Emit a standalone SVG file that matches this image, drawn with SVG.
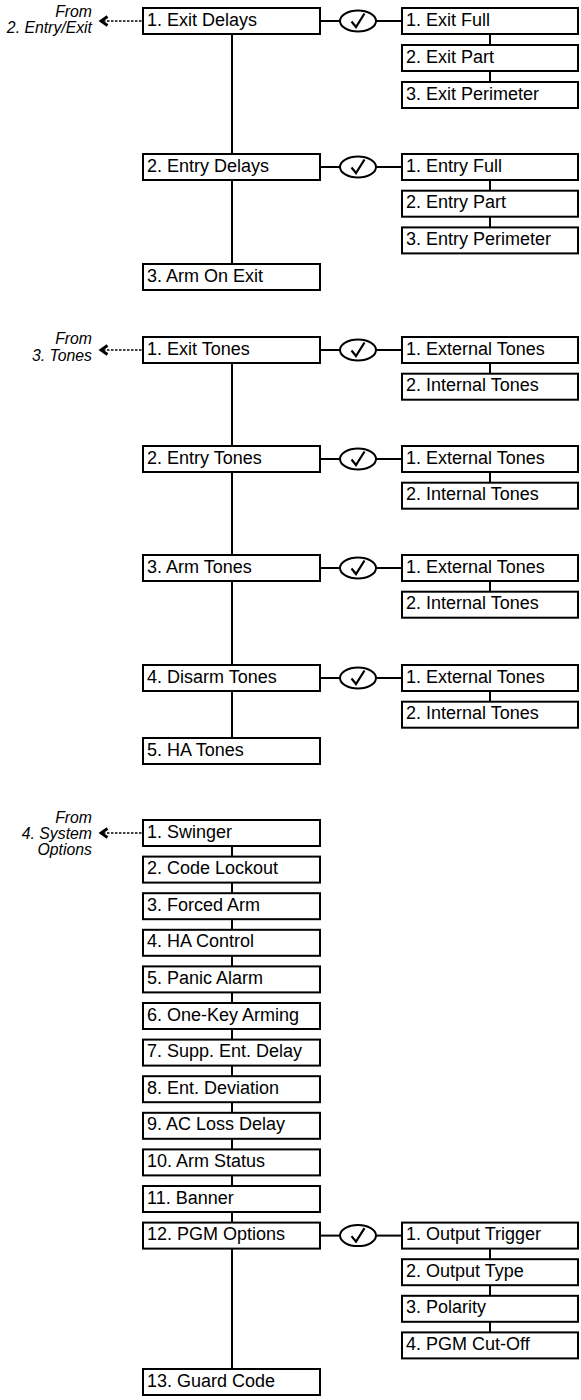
<svg xmlns="http://www.w3.org/2000/svg" width="581" height="1400" viewBox="0 0 581 1400">
<style>
.box{fill:#fff;stroke:#000;stroke-width:2}
.t{font-family:"Liberation Sans",Arial,sans-serif;font-size:18px;fill:#000}
.from{font-family:"Liberation Sans",Arial,sans-serif;font-size:15.8px;font-style:italic;fill:#000;text-anchor:end}
.ln{stroke:#000;stroke-width:2;fill:none}
.dash{stroke:#000;stroke-width:1.6;stroke-dasharray:2.5 1.5;fill:none}
.chev{stroke:#000;stroke-width:2.8;fill:none}
.ell{fill:#fff;stroke:#000;stroke-width:2}
.chk{fill:none;stroke:#000;stroke-width:2.2;stroke-linejoin:miter}
</style>
<defs>
<g id="check">
<line class="ln" x1="321" y1="0" x2="340" y2="0"/>
<line class="ln" x1="376" y1="0" x2="402" y2="0"/>
<ellipse class="ell" cx="358" cy="0" rx="18" ry="10.5"/>
<path class="chk" d="M351.5,0.5 L356,6 L364.5,-7.5"/>
</g>
<g id="back">
<path class="dash" d="M103,0 H142"/>
<path class="chev" d="M107.5,-4.5 L101,0 L107.5,4.5"/>
</g>
</defs>

<g id="connectors">
<line class="ln" x1="232" y1="34" x2="232" y2="264"/>
<line class="ln" x1="490" y1="34" x2="490" y2="82"/>
<line class="ln" x1="490" y1="180" x2="490" y2="227.4"/>
<use href="#check" y="21"/>
<use href="#check" y="167"/>
<use href="#back" y="21"/>
<line class="ln" x1="232" y1="363" x2="232" y2="738"/>
<line class="ln" x1="490" y1="363" x2="490" y2="373.7"/>
<line class="ln" x1="490" y1="472" x2="490" y2="482.7"/>
<line class="ln" x1="490" y1="581" x2="490" y2="591.7"/>
<line class="ln" x1="490" y1="691" x2="490" y2="701.7"/>
<use href="#check" y="350"/>
<use href="#check" y="459"/>
<use href="#check" y="568"/>
<use href="#check" y="678"/>
<use href="#back" y="350"/>
<line class="ln" x1="232" y1="846" x2="232" y2="1369"/>
<line class="ln" x1="490" y1="1248" x2="490" y2="1332.4"/>
<use href="#check" y="1235.6"/>
<use href="#back" y="833"/>
</g>

<g id="labels">
<text class="from" x="92" y="17">From</text>
<text class="from" x="92" y="33">2. Entry/Exit</text>
<text class="from" x="92" y="344">From</text>
<text class="from" x="92" y="361">3. Tones</text>
<text class="from" x="92" y="823">From</text>
<text class="from" x="92" y="839">4. System</text>
<text class="from" x="92" y="855">Options</text>
</g>

<g id="exit-delays"><rect class="box" x="143" y="8" width="177" height="26"/><text class="t" x="147" y="25.5">1. Exit Delays</text></g>
<g id="exit-full"><rect class="box" x="402" y="8" width="176" height="26"/><text class="t" x="406" y="25.5">1. Exit Full</text></g>
<g id="exit-part"><rect class="box" x="402" y="45" width="176" height="26"/><text class="t" x="406" y="62.5">2. Exit Part</text></g>
<g id="exit-perimeter"><rect class="box" x="402" y="82" width="176" height="26"/><text class="t" x="406" y="99.5">3. Exit Perimeter</text></g>
<g id="entry-delays"><rect class="box" x="143" y="154" width="177" height="26"/><text class="t" x="147" y="171.5">2. Entry Delays</text></g>
<g id="entry-full"><rect class="box" x="402" y="154" width="176" height="26"/><text class="t" x="406" y="171.5">1. Entry Full</text></g>
<g id="entry-part"><rect class="box" x="402" y="190.7" width="176" height="26"/><text class="t" x="406" y="208.2">2. Entry Part</text></g>
<g id="entry-perimeter"><rect class="box" x="402" y="227.4" width="176" height="26"/><text class="t" x="406" y="244.9">3. Entry Perimeter</text></g>
<g id="arm-on-exit"><rect class="box" x="143" y="264" width="177" height="26"/><text class="t" x="147" y="281.5">3. Arm On Exit</text></g>

<g id="exit-tones"><rect class="box" x="143" y="337" width="177" height="26"/><text class="t" x="147" y="354.5">1. Exit Tones</text></g>
<g id="exit-tones-ext"><rect class="box" x="402" y="337" width="176" height="26"/><text class="t" x="406" y="354.5">1. External Tones</text></g>
<g id="exit-tones-int"><rect class="box" x="402" y="373.7" width="176" height="26"/><text class="t" x="406" y="391.2">2. Internal Tones</text></g>
<g id="entry-tones"><rect class="box" x="143" y="446" width="177" height="26"/><text class="t" x="147" y="463.5">2. Entry Tones</text></g>
<g id="entry-tones-ext"><rect class="box" x="402" y="446" width="176" height="26"/><text class="t" x="406" y="463.5">1. External Tones</text></g>
<g id="entry-tones-int"><rect class="box" x="402" y="482.7" width="176" height="26"/><text class="t" x="406" y="500.2">2. Internal Tones</text></g>
<g id="arm-tones"><rect class="box" x="143" y="555" width="177" height="26"/><text class="t" x="147" y="572.5">3. Arm Tones</text></g>
<g id="arm-tones-ext"><rect class="box" x="402" y="555" width="176" height="26"/><text class="t" x="406" y="572.5">1. External Tones</text></g>
<g id="arm-tones-int"><rect class="box" x="402" y="591.7" width="176" height="26"/><text class="t" x="406" y="609.2">2. Internal Tones</text></g>
<g id="disarm-tones"><rect class="box" x="143" y="665" width="177" height="26"/><text class="t" x="147" y="682.5">4. Disarm Tones</text></g>
<g id="disarm-tones-ext"><rect class="box" x="402" y="665" width="176" height="26"/><text class="t" x="406" y="682.5">1. External Tones</text></g>
<g id="disarm-tones-int"><rect class="box" x="402" y="701.7" width="176" height="26"/><text class="t" x="406" y="719.2">2. Internal Tones</text></g>
<g id="ha-tones"><rect class="box" x="143" y="738" width="177" height="26"/><text class="t" x="147" y="755.5">5. HA Tones</text></g>

<g id="swinger"><rect class="box" x="143" y="820" width="177" height="26"/><text class="t" x="147" y="837.5">1. Swinger</text></g>
<g id="code-lockout"><rect class="box" x="143" y="856.6" width="177" height="26"/><text class="t" x="147" y="874.1">2. Code Lockout</text></g>
<g id="forced-arm"><rect class="box" x="143" y="893.2" width="177" height="26"/><text class="t" x="147" y="910.7">3. Forced Arm</text></g>
<g id="ha-control"><rect class="box" x="143" y="929.8" width="177" height="26"/><text class="t" x="147" y="947.3">4. HA Control</text></g>
<g id="panic-alarm"><rect class="box" x="143" y="966.4" width="177" height="26"/><text class="t" x="147" y="983.9">5. Panic Alarm</text></g>
<g id="one-key-arming"><rect class="box" x="143" y="1003" width="177" height="26"/><text class="t" x="147" y="1020.5">6. One-Key Arming</text></g>
<g id="supp-ent-delay"><rect class="box" x="143" y="1039.6" width="177" height="26"/><text class="t" x="147" y="1057.1">7. Supp. Ent. Delay</text></g>
<g id="ent-deviation"><rect class="box" x="143" y="1076.2" width="177" height="26"/><text class="t" x="147" y="1093.7">8. Ent. Deviation</text></g>
<g id="ac-loss-delay"><rect class="box" x="143" y="1112.8" width="177" height="26"/><text class="t" x="147" y="1130.3">9. AC Loss Delay</text></g>
<g id="arm-status"><rect class="box" x="143" y="1149.4" width="177" height="26"/><text class="t" x="147" y="1166.9">10. Arm Status</text></g>
<g id="banner"><rect class="box" x="143" y="1186" width="177" height="26"/><text class="t" x="147" y="1203.5">11. Banner</text></g>
<g id="pgm-options"><rect class="box" x="143" y="1222.6" width="177" height="26"/><text class="t" x="147" y="1240.1">12. PGM Options</text></g>
<g id="output-trigger"><rect class="box" x="402" y="1222.6" width="176" height="26"/><text class="t" x="406" y="1240.1">1. Output Trigger</text></g>
<g id="output-type"><rect class="box" x="402" y="1259.2" width="176" height="26"/><text class="t" x="406" y="1276.7">2. Output Type</text></g>
<g id="polarity"><rect class="box" x="402" y="1295.8" width="176" height="26"/><text class="t" x="406" y="1313.3">3. Polarity</text></g>
<g id="pgm-cut-off"><rect class="box" x="402" y="1332.4" width="176" height="26"/><text class="t" x="406" y="1349.9">4. PGM Cut-Off</text></g>
<g id="guard-code"><rect class="box" x="143" y="1369" width="177" height="26"/><text class="t" x="147" y="1386.5">13. Guard Code</text></g>
</svg>
